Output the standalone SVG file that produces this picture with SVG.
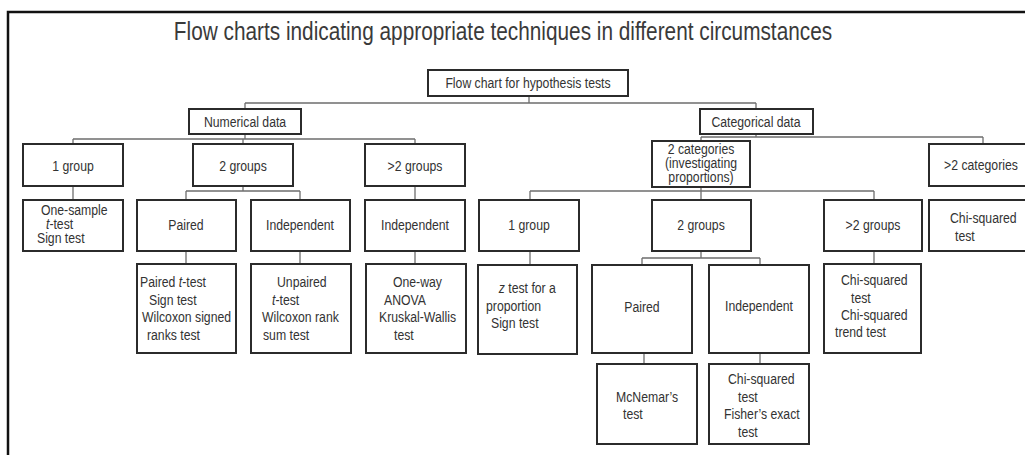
<svg xmlns="http://www.w3.org/2000/svg" width="1025" height="455" viewBox="0 0 1025 455">
  <style>
    .box { fill: #fff; stroke: #2b2b2b; stroke-width: 2; }
    .link { fill: none; stroke: #6e6e6e; stroke-width: 1.3; }
    text { font-family: "Liberation Sans", Arial, sans-serif; font-size: 15.5px; fill: #333;
           transform-box: fill-box; transform-origin: 0 50%; transform: scaleX(0.79); }
    .c { text-anchor: middle; transform-origin: 50% 50%; }
    .title { font-size: 26px; fill: #3a3a3a; transform: scaleX(0.8); }
    .it { font-style: italic; }
  </style>
  <rect x="0" y="0" width="1025" height="455" fill="#fff"/>
  <!-- page frame (open at bottom and right) -->
  <path d="M8,455 V12 H1025" fill="none" stroke="#111" stroke-width="2.5"/>
  <text class="title c" x="503" y="40">Flow charts indicating appropriate techniques in different circumstances</text>

  <g id="connectors">
    <path class="link" d="M529,96 V103 M245,103 H756 M245,103 V109 M756,103 V109"/>
    <path class="link" d="M245,134 V139 M73,139 H415 M73,139 V144 M243,139 V144 M415,139 V144"/>
    <path class="link" d="M73,186 V200"/>
    <path class="link" d="M243,186 V191 M186,191 H300 M186,191 V200 M300,191 V200"/>
    <path class="link" d="M186,251 V264 M300,251 V264"/>
    <path class="link" d="M415,186 V200 M415,251 V264"/>
    <path class="link" d="M756,134 V137 M701,137 H983 M701,137 V141 M983,137 V144"/>
    <path class="link" d="M701,187 V191 M530,191 H874 M530,191 V200 M701,191 V200 M874,191 V200"/>
    <path class="link" d="M530,251 V265"/>
    <path class="link" d="M701,251 V258 M642,258 H760 M642,258 V265 M760,258 V265"/>
    <path class="link" d="M874,251 V264"/>
    <path class="link" d="M644,353 V364 M760,353 V364"/>
  </g>

  <g id="root">
    <rect class="box" x="428" y="70" width="200" height="26"/>
    <text class="c" x="528" y="88">Flow chart for hypothesis tests</text>
  </g>
  <g id="numerical">
    <rect class="box" x="189" y="109" width="112" height="25"/>
    <text class="c" x="245" y="127">Numerical data</text>
  </g>
  <g id="categorical">
    <rect class="box" x="700" y="109" width="113" height="25"/>
    <text class="c" x="756" y="127">Categorical data</text>
  </g>

  <!-- numerical branch -->
  <g id="num-1group">
    <rect class="box" x="23" y="144" width="100" height="42"/>
    <text class="c" x="73" y="171">1 group</text>
  </g>
  <g id="num-2groups">
    <rect class="box" x="193" y="144" width="100" height="42"/>
    <text class="c" x="243" y="171">2 groups</text>
  </g>
  <g id="num-gt2groups">
    <rect class="box" x="365" y="144" width="100" height="42"/>
    <text class="c" x="415" y="171">&gt;2 groups</text>
  </g>
  <g id="num-1group-tests">
    <rect class="box" x="23" y="200" width="100" height="51"/>
    <text x="41" y="215">One-sample</text>
    <text x="46" y="229"><tspan class="it">t</tspan>-test</text>
    <text x="37" y="243">Sign test</text>
  </g>
  <g id="num-paired">
    <rect class="box" x="137" y="200" width="99" height="51"/>
    <text class="c" x="186" y="230">Paired</text>
  </g>
  <g id="num-independent">
    <rect class="box" x="251" y="200" width="99" height="51"/>
    <text class="c" x="300" y="230">Independent</text>
  </g>
  <g id="num-gt2-independent">
    <rect class="box" x="365" y="200" width="100" height="51"/>
    <text class="c" x="415" y="230">Independent</text>
  </g>
  <g id="num-paired-tests">
    <rect class="box" x="137" y="264" width="99" height="89"/>
    <text x="140" y="287">Paired <tspan class="it">t</tspan>-test</text>
    <text x="149" y="305">Sign test</text>
    <text x="142" y="322">Wilcoxon signed</text>
    <text x="147" y="340">ranks test</text>
  </g>
  <g id="num-independent-tests">
    <rect class="box" x="251" y="264" width="100" height="89"/>
    <text x="277" y="287">Unpaired</text>
    <text x="272" y="305"><tspan class="it">t</tspan>-test</text>
    <text x="262" y="322">Wilcoxon rank</text>
    <text x="263" y="340">sum test</text>
  </g>
  <g id="num-gt2-tests">
    <rect class="box" x="366" y="264" width="100" height="89"/>
    <text x="393" y="287">One-way</text>
    <text x="384" y="305">ANOVA</text>
    <text x="379" y="322">Kruskal-Wallis</text>
    <text x="394" y="340">test</text>
  </g>

  <!-- categorical branch -->
  <g id="cat-2categories">
    <rect class="box" x="652" y="141" width="98" height="46"/>
    <text class="c" x="701" y="154">2 categories</text>
    <text class="c" x="701" y="168">(investigating</text>
    <text class="c" x="701" y="182">proportions)</text>
  </g>
  <g id="cat-gt2categories">
    <rect class="box" x="929" y="144" width="100" height="42"/>
    <text class="c" x="981" y="170">&gt;2 categories</text>
  </g>
  <g id="cat-gt2categories-tests">
    <rect class="box" x="929" y="200" width="100" height="51"/>
    <text x="950" y="223">Chi-squared</text>
    <text x="955" y="241">test</text>
  </g>
  <g id="cat-1group">
    <rect class="box" x="479" y="200" width="100" height="51"/>
    <text class="c" x="529" y="230">1 group</text>
  </g>
  <g id="cat-2groups">
    <rect class="box" x="652" y="200" width="99" height="51"/>
    <text class="c" x="701" y="230">2 groups</text>
  </g>
  <g id="cat-gt2groups">
    <rect class="box" x="824" y="200" width="98" height="51"/>
    <text class="c" x="873" y="230">&gt;2 groups</text>
  </g>
  <g id="cat-1group-tests">
    <rect class="box" x="478" y="265" width="99" height="89"/>
    <text x="499" y="293"><tspan class="it">z</tspan> test for a</text>
    <text x="486" y="311">proportion</text>
    <text x="491" y="328">Sign test</text>
  </g>
  <g id="cat-paired">
    <rect class="box" x="592" y="265" width="100" height="88"/>
    <text class="c" x="642" y="312">Paired</text>
  </g>
  <g id="cat-independent">
    <rect class="box" x="709" y="265" width="100" height="88"/>
    <text class="c" x="759" y="311">Independent</text>
  </g>
  <g id="cat-gt2groups-tests">
    <rect class="box" x="824" y="264" width="97" height="89"/>
    <text x="841" y="285">Chi-squared</text>
    <text x="851" y="303">test</text>
    <text x="841" y="320">Chi-squared</text>
    <text x="835" y="337">trend test</text>
  </g>
  <g id="cat-paired-tests">
    <rect class="box" x="597" y="364" width="100" height="80"/>
    <text x="616" y="402">McNemar’s</text>
    <text x="623" y="419">test</text>
  </g>
  <g id="cat-independent-tests">
    <rect class="box" x="709" y="364" width="100" height="80"/>
    <text x="728" y="384">Chi-squared</text>
    <text x="738" y="402">test</text>
    <text x="724" y="419">Fisher’s exact</text>
    <text x="738" y="437">test</text>
  </g>
</svg>
